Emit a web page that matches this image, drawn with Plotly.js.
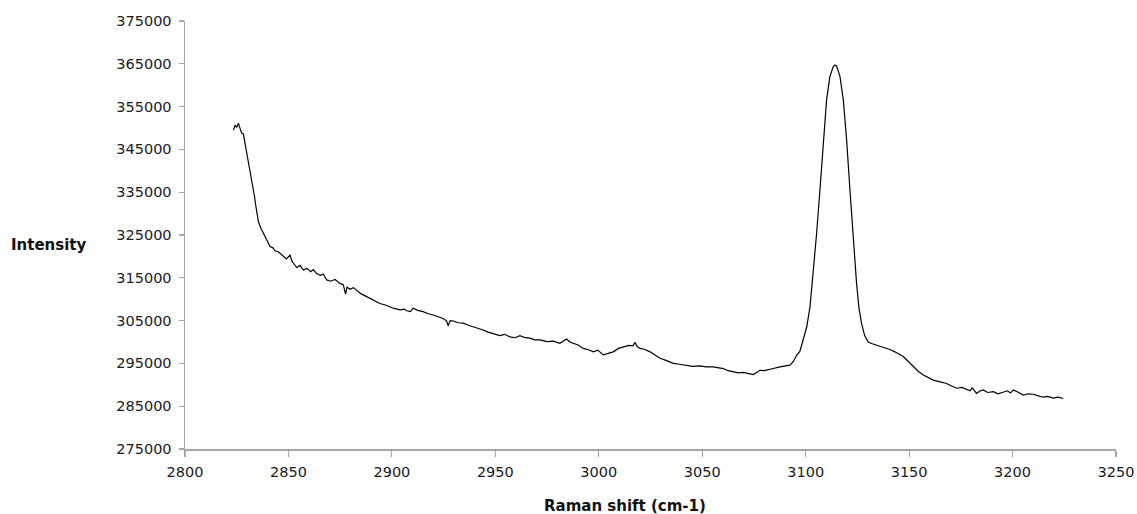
<!DOCTYPE html>
<html>
<head>
<meta charset="utf-8">
<script src="https://cdn.plot.ly/plotly-3.0.1.min.js"></script>
<style>
  html, body { margin: 0; padding: 0; background: #fff; }
  #chart { width: 1137px; height: 514px; }
</style>
</head>
<body>
<div id="chart"></div>
<script>
// Raman spectrum: shift (cm-1) and measured intensity
const ramanShift = [
  2823.4, 2824.2, 2825.0, 2825.8, 2826.6, 2827.4, 2828.2, 2829.0, 2829.8, 2830.6,
  2831.4, 2832.2, 2833.0, 2833.6, 2834.3, 2835.5, 2836.7, 2837.9, 2839.5, 2841.1,
  2842.5, 2843.5, 2845.1, 2846.3, 2847.6, 2849.0, 2850.8, 2851.6, 2852.4, 2854.0,
  2855.6, 2857.2, 2859.0, 2860.8, 2862.0, 2863.6, 2865.5, 2866.8, 2868.5, 2870.5,
  2872.5, 2874.9, 2876.5, 2877.6, 2878.3, 2879.8, 2881.4, 2883.0, 2885.0, 2887.8,
  2890.0, 2892.0, 2894.2, 2896.5, 2898.5, 2900.7, 2903.9, 2906.0, 2907.1, 2909.0,
  2910.3, 2912.5, 2915.1, 2917.5, 2920.0, 2922.0, 2924.8, 2926.5, 2927.2, 2928.2,
  2929.7, 2932.0, 2934.5, 2937.0, 2939.3, 2941.5, 2944.1, 2946.5, 2949.0, 2952.2,
  2954.5, 2957.1, 2959.5, 2961.9, 2964.5, 2966.7, 2969.0, 2971.6, 2975.0, 2978.0,
  2981.2, 2983.0, 2984.5, 2986.0, 2987.7, 2990.0, 2992.5, 2995.0, 2997.4, 2999.5,
  3002.2, 3004.5, 3007.0, 3009.5, 3011.9, 3014.5, 3016.5, 3017.5, 3018.5, 3019.9,
  3022.0, 3024.8, 3027.0, 3029.6, 3032.5, 3036.0, 3039.0, 3042.5, 3045.5, 3048.9,
  3052.0, 3055.3, 3058.0, 3060.2, 3062.5, 3065.0, 3067.5, 3069.8, 3072.0, 3074.7,
  3076.3, 3077.9, 3080.0, 3082.0, 3084.3, 3087.6, 3090.8, 3092.4, 3094.0, 3095.6,
  3097.2, 3098.8, 3100.5, 3102.1, 3103.7, 3105.3, 3106.9, 3108.5, 3110.1, 3111.7,
  3112.5, 3113.3, 3114.1, 3114.9, 3115.7, 3116.6, 3118.2, 3119.8, 3121.4, 3123.0,
  3124.6, 3125.8, 3127.0, 3128.5, 3130.2, 3132.2, 3134.3, 3136.5, 3139.1, 3141.0,
  3143.1, 3145.0, 3147.2, 3149.5, 3152.0, 3154.5, 3156.9, 3159.3, 3161.7, 3165.0,
  3168.1, 3170.5, 3173.0, 3175.5, 3177.8, 3179.5, 3180.5, 3182.6, 3184.0, 3185.8,
  3188.0, 3190.7, 3193.0, 3195.5, 3197.5, 3199.0, 3200.3, 3202.5, 3205.2, 3207.5,
  3210.0, 3212.5, 3214.8, 3217.0, 3219.7, 3222.0, 3224.5
];

const intensity = [
  349500, 350600, 350200, 351100, 349900, 348800, 348600, 346400, 344100, 342300,
  340200, 338500, 336300, 334000, 331600, 328100, 326600, 325400, 323600, 322300,
  322000, 321300, 321100, 320600, 319900, 319400, 320300, 319000, 318400, 317400,
  317900, 316800, 317200, 316400, 316900, 316000, 315600, 315900, 314500, 314200,
  314600, 313700, 313400, 311200, 312800, 312300, 312700, 312000, 311300, 310600,
  310100, 309600, 309000, 308700, 308300, 307900, 307500, 307700, 307300, 307100,
  307900, 307400, 307100, 306600, 306300, 306000, 305500, 304900, 303800, 305000,
  304900, 304500, 304400, 303900, 303600, 303300, 302800, 302300, 302000, 301500,
  301800, 301200, 301000, 301500, 301000, 300900, 300500, 300500, 300100, 300200,
  299700, 300200, 300700, 300000, 299700, 299300, 298500, 298200, 297700, 298100,
  297000, 297400, 297700, 298500, 298900, 299200, 299100, 299900, 299000, 298500,
  298300, 297700, 297000, 296200, 295700, 295000, 294800, 294600, 294300, 294400,
  294200, 294200, 294000, 293800, 293300, 293100, 292800, 292900, 292700, 292400,
  292900, 293400, 293300, 293600, 293800, 294200, 294400, 294600, 295400, 296900,
  297800, 300400, 303500, 308200, 316000, 325400, 335500, 347200, 356500, 362000,
  363500, 364300, 364700, 364500, 363400, 362000, 356500, 347200, 335500, 323800,
  313700, 307800, 304400, 301500, 300000, 299600, 299300, 298900, 298500, 298200,
  297700, 297200, 296600, 295500, 294200, 293100, 292300, 291700, 291100, 290700,
  290300, 289700, 289200, 289400, 289000, 288600, 289300, 288000, 288500, 288800,
  288200, 288400, 287900, 288200, 288600, 288100, 288800, 288300, 287600, 287900,
  287800, 287400, 287100, 287300, 286900, 287100, 286800
];

const xTitle = 'Raman shift (cm-1)';
const yTitle = 'Intensity';

const axisColor = '#a6a6a6';
const tickFont = { family: 'DejaVu Sans, sans-serif', size: 14.5, color: '#1a1a1a' };
const titleFont = { family: 'DejaVu Sans, sans-serif', size: 15, color: '#111', weight: 'bold' };

const trace = {
  type: 'scatter',
  mode: 'lines',
  x: ramanShift,
  y: intensity,
  line: { color: '#000', width: 1.2 },
  hoverinfo: 'x+y',
  showlegend: false
};

const layout = {
  width: 1137,
  height: 514,
  margin: { l: 185, r: 21, t: 21, b: 65 },
  paper_bgcolor: '#fff',
  plot_bgcolor: '#fff',
  xaxis: {
    range: [2800, 3250],
    tick0: 2800,
    dtick: 50,
    showgrid: false,
    zeroline: false,
    showline: true,
    linecolor: axisColor,
    linewidth: 1.5,
    ticks: 'outside',
    ticklen: 6,
    tickcolor: axisColor,
    tickwidth: 1.2,
    tickfont: tickFont,
    ticklabelstandoff: 3
  },
  yaxis: {
    range: [275000, 375000],
    tick0: 275000,
    dtick: 10000,
    tickformat: 'd',
    showgrid: false,
    zeroline: false,
    showline: true,
    linecolor: axisColor,
    linewidth: 1.5,
    ticks: 'outside',
    ticklen: 5,
    tickcolor: axisColor,
    tickwidth: 1.2,
    tickfont: tickFont,
    ticklabelstandoff: 4
  },
  annotations: [
    {
      text: yTitle,
      xref: 'paper', yref: 'paper',
      x: (10 - 185) / 931, y: 0.4766,
      xanchor: 'left', yanchor: 'middle',
      showarrow: false,
      borderpad: 0,
      font: titleFont
    },
    {
      text: xTitle,
      xref: 'paper', yref: 'paper',
      x: (625 - 185) / 931, y: -(505.5 - 449) / 428,
      xanchor: 'center', yanchor: 'middle',
      showarrow: false,
      borderpad: 0,
      font: titleFont
    }
  ]
};

Plotly.newPlot('chart', [trace], layout, { staticPlot: true, displayModeBar: false });
</script>
</body>
</html>
